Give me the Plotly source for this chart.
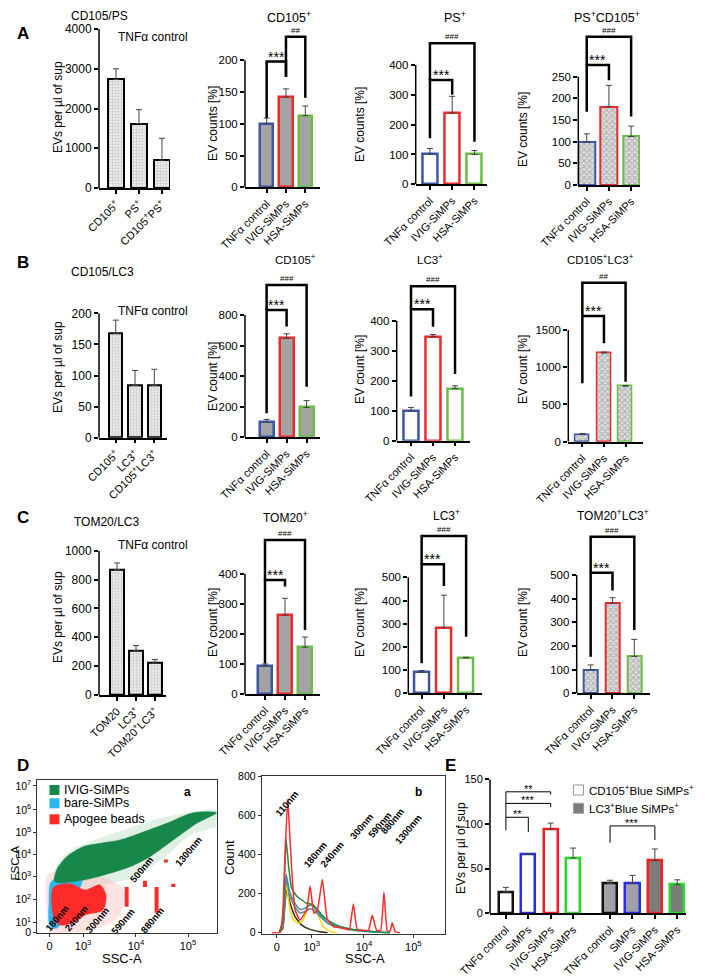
import plotly.graph_objects as go

W, H = 708, 977
OX, OY = 8, 8                      # page body margin of the html document
FW, FH = W - OX, H - OY            # figure size
FONT = "Liberation Sans, Arial, Helvetica, sans-serif"

# ---------------- data ----------------
treat = ["TNFα control", "IVIG-SiMPs", "HSA-SiMPs"]
c_treat = ["#3a55a6", "#ec2a2c", "#6bbd45"]

a1_cats = ["CD105<sup>+</sup>", "PS<sup>+</sup>", "CD105<sup>+</sup>PS<sup>+</sup>"]
a1_vals = [2730, 1620, 700]
a1_sd = [270, 350, 550]
a2_vals = [100, 142, 113]
a2_sd = [9, 13, 15]
a3_vals = [100, 239, 100]
a3_sd = [20, 56, 13]
a4_vals = [100, 181, 112]
a4_sd = [18, 49, 24]

b1_cats = ["CD105<sup>+</sup>", "LC3<sup>+</sup>", "CD105<sup>+</sup>LC3<sup>+</sup>"]
b1_vals = [168, 84, 84]
b1_sd = [21, 24, 26]
b2_vals = [97, 647, 195]
b2_sd = [20, 30, 45]
b3_vals = [98, 347, 174]
b3_sd = [13, 7, 9]
b4_vals = [95, 1190, 745]
b4_sd = [15, 15, 10]

c1_cats = ["TOM20", "LC3<sup>+</sup>", "TOM20<sup>+</sup>LC3<sup>+</sup>"]
c1_vals = [870, 308, 227]
c1_sd = [45, 35, 20]
c2_vals = [92, 263, 156]
c2_sd = [8, 56, 34]
c3_vals = [90, 283, 153]
c3_sd = [8, 140, 2]
c4_vals = [99, 380, 156]
c4_sd = [21, 24, 72]

e_cats = ["TNFα control", "SiMPs", "IVIG-SiMPs", "HSA-SiMPs"] * 2
e_x = [0, 1, 2, 3, 4.65, 5.65, 6.65, 7.65]
e_vals = [24, 66, 94, 62, 33.5, 33.5, 59, 32]
e_sd = [5, 1, 7, 11, 3.5, 9, 13, 5.5]
e_line = ["#111111", "#2a2ae8", "#ff1a1a", "#22dd22"] * 2
e_fill = ["#ffffff"] * 4 + ["#a0a0a6", "#a0a0a6", "#7c7c7c", "#7c7c7c"]

# significance brackets: (label, i, j, bracket_y, leg_i_bottom, leg_j_bottom)
a2_br = [("***", 0, 1, 198, 109, 174), ("##", 1, 2, 237, 174, 141)]
a3_br = [("***", 0, 1, 350, 154, 300), ("###", 0, 2, 473, 350, 143)]
a4_br = [("***", 0, 1, 277, 169, 242), ("###", 0, 2, 342, 277, 158)]
b2_br = [("***", 0, 1, 833, 157, 724), ("###", 0, 2, 996, 833, 331)]
b3_br = [("***", 0, 1, 438, 147, 380), ("###", 0, 2, 515, 438, 222)]
b4_br = [("***", 0, 1, 1688, 784, 1321), ("##", 0, 2, 2136, 1688, 806)]
c2_br = [("***", 0, 1, 380, 102, 358), ("###", 0, 2, 513, 380, 213)]
c3_br = [("***", 0, 1, 556, 129, 462), ("###", 0, 2, 678, 556, 244)]
c4_br = [("***", 0, 1, 510, 155, 434), ("###", 0, 2, 662, 510, 268)]
e_br = [("**", 0, 1, 107.5, 93, 91), ("***", 0, 2, 123, 107.5, 118.7),
        ("**", 0, 2, 136, 123, 133), ("***", 4, 6, 97.8, 79, 82)]

# D(a) flow cytometry density regions (display units 0-100 on biexponential axes)
sc_xticks = [6.8, 25.5, 55, 84]
sc_xtext = ["0", "10<sup>3</sup>", "10<sup>4</sup>", "10<sup>5</sup>"]
sc_yticks = [0, 6.7, 21.7, 36.7, 51.2, 65.6, 80.4, 96.1]
sc_ytext = ["0", "10<sup>1</sup>", "10<sup>2</sup>", "10<sup>3</sup>", "10<sup>4</sup>",
            "10<sup>5</sup>", "10<sup>6</sup>", "10<sup>7</sup>"]
green_halo_x = [100, 85.1, 68.4, 51.7, 34.9, 21, 12.6, 9, 12.6, 34.9, 51.7, 68.4, 85.1, 100]
green_halo_y = [80.1, 78.4, 74.9, 68.4, 61.9, 55.3, 47.3, 36, 27.8, 31.2, 35.8, 47.3, 63.7, 70.5]
green_x = [9.9, 25.6, 40.5, 51.7, 62.8, 75.8, 88.9, 98.1, 100, 87, 72.1, 57.2, 46.1, 35, 25.6, 16.4, 10.8]
green_y = [33.4, 34.5, 38.9, 43.2, 49.8, 60.7, 71.6, 77.1, 78.6, 78.6, 71.6, 65.1, 60.7, 58.5, 56.3, 49.8, 41.1]
cyan_x = [7.1, 6.5, 7.5, 12, 20, 25, 22, 15, 11]
cyan_y = [4, 20, 33, 36.5, 37, 35, 25, 10, 3]
red_halo_x = [6, 20, 40, 48, 45, 30, 8, 5]
red_halo_y = [38, 40, 35, 28, 10, 2, 1, 20]
red_x = [8.9, 18.2, 26.6, 35, 38.3, 36.6, 26.6, 21, 12.7, 9.3]
red_y = [29.5, 32, 28, 31.3, 24.7, 14.9, 11.6, 7, 5, 9.7]
bead_x = [49.8, 60, 66.5, 71.7, 75.8]
bead_y0 = [17, 30, 13, 46, 30]
bead_y1 = [30, 34, 30, 48, 32]
sc_labels = ["180nm", "240nm", "300nm", "590nm", "880nm", "500nm", "1300nm"]
sc_lab_x = [10.8, 21.5, 33.1, 47.6, 63.8, 58.2, 84.2]
sc_lab_y = [9.4, 9.6, 8.3, 7.2, 8.3, 41.1, 53.1]

# D(b) SSC histograms (display units on x, counts on y)
hist_xticks = [8.2, 27.3, 55.8, 82.7]
red_hx = [5.5, 10, 11.5, 12.8, 14.2, 15.2, 16.4, 18.2, 20.9, 24.5, 26.4, 28.5, 30.4, 33.1, 35.8,
          39.1, 42.7, 46.3, 47.8, 50, 52.2, 55, 58.2, 60.3, 62.7, 64.9, 66.7, 68.5, 70, 71.2, 72.9, 75.4]
red_hy = [0, 0, 99, 420, 681, 520, 320, 116, 65, 116, 238, 99, 116, 272, 68,
          31, 25, 18, 14, 146, 14, 12, 12, 90, 12, 12, 206, 10, 8, 51, 5, 0]
green_hx = [9.5, 11.5, 12.5, 13.3, 14.7, 16.4, 19.1, 21.8, 24.5, 27.3, 30, 33.6, 37.3, 42.7, 50, 57.3, 64.5, 70]
green_hy = [0, 60, 300, 477, 337, 226, 187, 167, 150, 146, 124, 82, 56, 31, 17, 10, 3, 0]
teal_hx = [9.5, 11.5, 12.5, 13.3, 15.5, 18.2, 20.9, 23.6, 26.4, 29.1, 32.7, 36.4, 42.7, 50, 57, 65, 70]
teal_hy = [0, 40, 180, 300, 201, 150, 119, 124, 141, 124, 82, 48, 32, 15, 7, 2, 0]
grey_hy = [0, 35, 160, 275, 185, 130, 100, 108, 122, 110, 75, 45, 28, 13, 6, 2, 0]
yellow_hx = [9.5, 11.5, 12.5, 13.3, 15.2, 17.3, 20, 22.7, 25.5, 27.8, 30.4, 33.6, 37.3, 41]
yellow_hy = [0, 30, 150, 252, 133, 65, 48, 65, 133, 150, 99, 31, 7, 0]
dark_hx = [9.5, 11.5, 12.5, 13.6, 15.5, 18.2, 21.8, 26.4, 31.8, 36]
dark_hy = [0, 20, 120, 226, 150, 82, 39, 17, 5, 0]
hist_labels = ["110nm", "180nm", "240nm", "300nm", "590nm", "880nm", "1300nm"]
hist_lab_x = [13.6, 29.1, 38.2, 54.5, 64.6, 70.9, 79.9]
hist_lab_y = [660, 400, 400, 540, 550, 570, 525]

# ---------------- helpers ----------------
fig = go.Figure()
axes = {}
shapes = []
annotations = []


def PX(p):
    return (p - OX) / FW


def PY(p):
    return 1 - (p - OY) / FH


def sx(n):
    return "" if n == 1 else str(n)


def ann(text, x, y, size=12, angle=0, bold=False, xanchor="center", yanchor="middle", color="black"):
    if bold:
        text = "<b>" + text + "</b>"
    annotations.append(dict(text=text, x=PX(x), y=PY(y), xref="paper", yref="paper", showarrow=False,
                            font=dict(size=size, family=FONT, color=color), textangle=angle,
                            xanchor=xanchor, yanchor=yanchor))


def bar_panel(n, xpx, y_zero, y_tick, y_top, tickmax, dtick, xr, cats, vals, sd, fill, lines, lw, bw,
              pattern=None, brackets=(), brw=2.5, x=None, star_size=14, hash_size=8, yfont=11.5):
    if x is None:
        x = list(range(len(vals)))
    s = sx(n)
    rtop = tickmax * (y_zero - y_top) / (y_zero - y_tick)
    axes["xaxis" + s] = dict(domain=[PX(xpx[0]), PX(xpx[1])], range=xr, anchor="y" + s, showline=True,
                             linecolor="black", linewidth=1.5, ticks="outside", ticklen=4, tickwidth=1.5,
                             tickcolor="black", tickvals=x, ticktext=cats, tickangle=-45, automargin=False,
                             tickfont=dict(size=11, family=FONT, color="black"), showgrid=False, zeroline=False)
    axes["yaxis" + s] = dict(domain=[PY(y_zero), PY(y_top)], range=[0, rtop], anchor="x" + s,
                             showline=False, ticks="outside", ticklen=4, tickwidth=1.5, tickcolor="black",
                             tickvals=list(range(0, tickmax + 1, dtick)), automargin=False,
                             tickfont=dict(size=yfont, family=FONT, color="black"), showgrid=False, zeroline=False)
    shapes.append(dict(type="line", xref="x" + s + " domain", x0=0, x1=0, yref="y" + s, y0=0, y1=tickmax,
                       line=dict(color="black", width=1.5)))
    marker = dict(color=fill, line=dict(color=lines, width=lw))
    if pattern:
        marker["pattern"] = pattern
    fig.add_trace(go.Bar(x=x, y=vals, width=bw, marker=marker, xaxis="x" + s, yaxis="y" + s,
                         error_y=dict(type="data", array=sd, arrayminus=[0] * len(sd), symmetric=False,
                                      color="#444", thickness=1, width=3),
                         showlegend=False, hoverinfo="skip"))
    for lab, i, j, yb, li, lj in brackets:
        xi, xj = x[i], x[j]
        shapes.append(dict(type="path", xref="x" + s, yref="y" + s,
                           path=f"M {xi},{li} L {xi},{yb} L {xj},{yb} L {xj},{lj}",
                           line=dict(color="black", width=brw)))
        star = lab.startswith("*")
        annotations.append(dict(text=lab, x=(xi + xj) / 2, y=yb, xref="x" + s, yref="y" + s, showarrow=False,
                                yanchor="bottom", yshift=-5 if star else 0,
                                font=dict(size=star_size if star else hash_size, family=FONT, color="black")))


dots = dict(shape=".", fgcolor="#a8a8a8", bgcolor="#f2f2f2", size=3, solidity=0.5)
checker = dict(shape="x", fgcolor="#8a8a8a", bgcolor="#dedede", size=4, solidity=0.5)
GREY = "#a3a3a3"
WHITE = "#ffffff"

# ---------------- Row A ----------------
bar_panel(1, (99, 170), 188, 29, 29, 4000, 1000, [-0.74, 2.35], a1_cats, a1_vals, a1_sd,
          "#f2f2f2", "black", 2, 0.7, pattern=dots, yfont=12)
bar_panel(2, (245, 320), 187.3, 60.3, 20, 200, 50, [-1.12, 2.76], treat, a2_vals, a2_sd,
          GREY, c_treat, 2.5, 0.69, brackets=a2_br)
bar_panel(3, (415.7, 486.7), 184.3, 65, 25, 400, 100, [-0.64, 2.55], treat, a3_vals, a3_sd,
          WHITE, c_treat, 2.5, 0.66, brackets=a3_br)
bar_panel(4, (578.3, 640), 185, 76.7, 25, 250, 50, [-0.38, 2.4], treat, a4_vals, a4_sd,
          "#dedede", c_treat, 2, 0.75, pattern=checker, brackets=a4_br)

# ---------------- Row B ----------------
bar_panel(5, (99, 167), 437.7, 313.3, 313.3, 200, 50, [-0.87, 2.66], b1_cats, b1_vals, b1_sd,
          "#f2f2f2", "black", 2, 0.68, pattern=dots, yfont=12)
bar_panel(6, (245, 320), 437.3, 315, 270, 800, 200, [-1.08, 2.67], treat, b2_vals, b2_sd,
          GREY, c_treat, 2.5, 0.7, brackets=b2_br)
bar_panel(7, (396.7, 470), 440.7, 320.7, 270, 400, 100, [-0.65, 2.68], treat, b3_vals, b3_sd,
          WHITE, c_treat, 2.5, 0.68, brackets=b3_br)
bar_panel(8, (568.3, 643.3), 441.7, 330, 270, 1500, 500, [-0.65, 2.82], treat, b4_vals, b4_sd,
          "#dedede", c_treat, 1.5, 0.65, pattern=checker, brackets=b4_br)

# ---------------- Row C ----------------
bar_panel(9, (99, 166), 695, 550.7, 550.7, 1000, 200, [-0.95, 2.58], c1_cats, c1_vals, c1_sd,
          "#f2f2f2", "black", 2, 0.74, pattern=dots, yfont=12)
bar_panel(10, (245, 320), 694, 574, 525, 400, 100, [-1, 2.75], treat, c2_vals, c2_sd,
          GREY, c_treat, 2.5, 0.7, brackets=c2_br)
bar_panel(11, (408.3, 481.7), 693.3, 577.3, 525, 500, 100, [-0.6, 2.7], treat, c3_vals, c3_sd,
          WHITE, c_treat, 2.5, 0.68, brackets=c3_br)
bar_panel(12, (576.7, 650), 693.3, 575, 525, 500, 100, [-0.64, 2.72], treat, c4_vals, c4_sd,
          "#dedede", c_treat, 2, 0.64, pattern=checker, brackets=c4_br)

# ---------------- Panel E ----------------
bar_panel(13, (490, 686), 913.3, 779.3, 779.3, 150, 50, [-0.71, 8.04], e_cats, e_vals, e_sd,
          e_fill, e_line, 2.5, 0.63, brackets=e_br, brw=1, x=e_x, star_size=11, yfont=11)


# ---------------- Panel D(a) scatter ----------------
def frame_axes(n, xpx, ybot, ytop, xr, yr, xt, xtt, yt, ytt):
    s = sx(n)
    axes["xaxis" + s] = dict(domain=[PX(xpx[0]), PX(xpx[1])], range=xr, anchor="y" + s, showline=True,
                             mirror=True, linecolor="#333", linewidth=1, ticks="outside", ticklen=3,
                             tickcolor="#333", tickvals=xt, ticktext=xtt, automargin=False,
                             tickfont=dict(size=11, family=FONT, color="black"), showgrid=False, zeroline=False)
    axes["yaxis" + s] = dict(domain=[PY(ybot), PY(ytop)], range=yr, anchor="x" + s, showline=True,
                             mirror=True, linecolor="#333", linewidth=1, ticks="outside", ticklen=3,
                             tickcolor="#333", tickvals=yt, ticktext=ytt, automargin=False,
                             tickfont=dict(size=10.5, family=FONT, color="black"), showgrid=False, zeroline=False)


frame_axes(14, (37.3, 216.7), 932.7, 780, [0, 100], [0, 100], sc_xticks, sc_xtext, sc_yticks, sc_ytext)


def poly(xs, ys, color, opacity, n):
    fig.add_trace(go.Scatter(x=xs + xs[:1], y=ys + ys[:1], mode="lines", fill="toself", fillcolor=color,
                             line=dict(color=color, width=0.5, shape="spline", smoothing=0.8), opacity=opacity,
                             xaxis="x" + sx(n), yaxis="y" + sx(n), showlegend=False, hoverinfo="skip"))


poly(green_halo_x, green_halo_y, "#a9d3b2", 0.35, 14)
poly(red_halo_x, red_halo_y, "#ffb0b0", 0.35, 14)
poly(cyan_x, cyan_y, "#2cb6ea", 1, 14)
poly(green_x, green_y, "#17874a", 1, 14)
poly(red_x, red_y, "#ff2b2b", 1, 14)
for bx, b0, b1 in zip(bead_x, bead_y0, bead_y1):
    fig.add_trace(go.Scatter(x=[bx, bx], y=[b0, b1], mode="lines", line=dict(color="#ff2b2b", width=4),
                             xaxis="x14", yaxis="y14", showlegend=False, hoverinfo="skip"))
for t, lx, ly in zip(sc_labels, sc_lab_x, sc_lab_y):
    annotations.append(dict(text="<b>" + t + "</b>", x=lx, y=ly, xref="x14", yref="y14", showarrow=False,
                            textangle=-50, font=dict(size=9.5, family=FONT, color="black")))

# legend of D(a)
for col, yc, lab in [("#17874a", 790, "IVIG-SiMPs"), ("#2cb6ea", 803.3, "bare-SiMPs"),
                     ("#ff2b2b", 819.3, "Apogee beads")]:
    shapes.append(dict(type="rect", xref="paper", yref="paper", x0=PX(49.5), x1=PX(59.5),
                       y0=PY(yc + 5), y1=PY(yc - 5), fillcolor=col, line=dict(width=0)))
    ann(lab, 61.7, yc, size=12.5, xanchor="left")
ann("a", 188, 791.7, size=12, bold=True)
ann("FSC-A", 14.5, 863, size=11.5, angle=-90)
ann("SSC-A", 121.7, 958, size=13)

# ---------------- Panel D(b) histogram ----------------
frame_axes(15, (261.7, 445), 933.5, 776, [0, 100], [-4, 800], hist_xticks, sc_xtext,
           [0, 200, 400, 600, 800], ["0", "200", "400", "600", "800"])
for hx, hy, col in [(dark_hx, dark_hy, "#3b2c12"), (yellow_hx, yellow_hy, "#f5dc00"),
                    (teal_hx, grey_hy, "#6b7f8e"), (teal_hx, teal_hy, "#3b8fb3"),
                    (green_hx, green_hy, "#1c8d3e"), (red_hx, red_hy, "#ff2a2a")]:
    fig.add_trace(go.Scatter(x=hx, y=hy, mode="lines", line=dict(color=col, width=1.5, shape="spline", smoothing=0.4),
                             xaxis="x15", yaxis="y15", showlegend=False, hoverinfo="skip"))
for t, lx, ly in zip(hist_labels, hist_lab_x, hist_lab_y):
    annotations.append(dict(text="<b>" + t + "</b>", x=lx, y=ly, xref="x15", yref="y15", showarrow=False,
                            textangle=-50, font=dict(size=9.5, family=FONT, color="black")))
ann("b", 418.3, 791.7, size=12, bold=True)
ann("Count", 229, 858, size=13, angle=-90)
ann("SSC-A", 365, 958, size=13)

# ---------------- texts ----------------
for L, x, y in [("A", 23, 33), ("B", 23, 263), ("C", 23, 517), ("D", 23, 765), ("E", 450, 765)]:
    ann(L, x, y, size=17, bold=True)

ann("CD105/PS", 99, 16, size=12)
ann("TNFα control", 153, 37, size=12)
ann("CD105/LC3", 103, 272, size=12)
ann("TNFα control", 153, 311, size=12)
ann("TOM20/LC3", 106, 522, size=12)
ann("TNFα control", 153, 545, size=12)

ann("CD105<sup>+</sup>", 289, 17, size=12.5)
ann("PS<sup>+</sup>", 455, 17, size=12.5)
ann("PS<sup>+</sup>CD105<sup>+</sup>", 606.7, 17, size=12.5)
ann("CD105<sup>+</sup>", 295, 259, size=11.5)
ann("LC3<sup>+</sup>", 430, 259, size=11.5)
ann("CD105<sup>+</sup>LC3<sup>+</sup>", 600, 259, size=11.5)
ann("TOM20<sup>+</sup>", 285, 517, size=12)
ann("LC3<sup>+</sup>", 446.7, 515, size=12)
ann("TOM20<sup>+</sup>LC3<sup>+</sup>", 613.3, 515, size=12)

for x, y, t in [(58, 107, "EVs per µl of sup"), (213, 124, "EV counts [%]"), (360, 125, "EV counts [%]"),
                (523, 130, "EV counts [%]"), (58, 367, "EVs per µl of sup"), (213, 377, "EV count [%]"),
                (360, 370, "EV count [%]"), (523, 370, "EV count [%]"), (58, 617, "EVs per µl of sup"),
                (213, 623, "EV count [%]"), (360, 623, "EV count [%]"), (523, 623, "EV count [%]"),
                (461, 848, "EVs per µl of sup")]:
    ann(t, x, y, size=12, angle=-90)

# legend of E
for fillc, yc, lab in [("#ffffff", 790, "CD105<sup>+</sup>Blue SiMPs<sup>+</sup>"),
                       ("#7c7c7c", 808.3, "LC3<sup>+</sup>Blue SiMPs<sup>+</sup>")]:
    shapes.append(dict(type="rect", xref="paper", yref="paper", x0=PX(573.5), x1=PX(583.5),
                       y0=PY(yc + 5), y1=PY(yc - 5), fillcolor=fillc, line=dict(color="#999", width=1)))
    ann(lab, 587, yc, size=11.5, xanchor="left")

fig.update_layout(width=FW, height=FH, margin=dict(l=0, r=0, t=0, b=0, autoexpand=False), plot_bgcolor="white",
                  paper_bgcolor="white", font=dict(family=FONT, color="black"), showlegend=False,
                  shapes=shapes, annotations=annotations, bargap=0, **axes)
fig.write_html("out.html")
